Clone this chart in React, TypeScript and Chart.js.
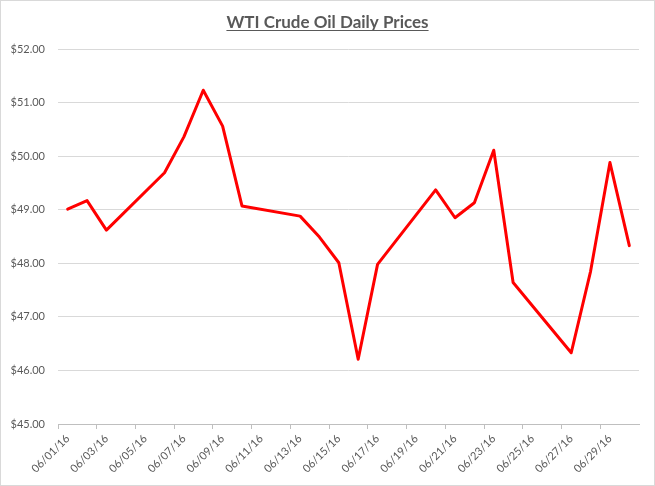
import React, { useEffect, useRef } from "react";
import { Chart, registerables } from "chart.js";

Chart.register(...registerables);

const TITLE = "WTI Crude Oil Daily Prices";

// All calendar days of June 2016 (the date axis)
const dayLabels: string[] = [
  "06/01/16", "06/02/16", "06/03/16", "06/04/16", "06/05/16", "06/06/16",
  "06/07/16", "06/08/16", "06/09/16", "06/10/16", "06/11/16", "06/12/16",
  "06/13/16", "06/14/16", "06/15/16", "06/16/16", "06/17/16", "06/18/16",
  "06/19/16", "06/20/16", "06/21/16", "06/22/16", "06/23/16", "06/24/16",
  "06/25/16", "06/26/16", "06/27/16", "06/28/16", "06/29/16", "06/30/16",
];

// Trading-day prices (null = weekend, no data)
const prices: (number | null)[] = [
  49.01, 49.17, 48.62, null, null, 49.69,
  50.36, 51.23, 50.56, 49.07, null, null,
  48.88, 48.49, 48.01, 46.21, 47.98, null,
  null, 49.37, 48.85, 49.13, 50.11, 47.64,
  null, null, 46.33, 47.85, 49.88, 48.33,
];

const yMin = 45;
const yMax = 52;
const yStep = 1;

const FONT = "Lato, 'Open Sans', sans-serif";

const decorPlugin = {
  id: "decor",
  beforeDraw(chart: any) {
    const { ctx, width, height } = chart;
    ctx.save();
    ctx.fillStyle = "#ffffff";
    ctx.fillRect(0, 0, width, height);
    ctx.restore();
  },
  afterDraw(chart: any) {
    const { ctx, width, height } = chart;
    ctx.save();
    // outer chart border
    ctx.strokeStyle = "#d9d9d9";
    ctx.lineWidth = 1;
    ctx.strokeRect(0.5, 0.5, width - 1, height - 1);
    // title with underline
    ctx.font = `bold 17px ${FONT}`;
    ctx.fillStyle = "#595959";
    ctx.textAlign = "center";
    ctx.textBaseline = "alphabetic";
    const cx = width / 2;
    const by = 28;
    ctx.fillText(TITLE, cx, by);
    const w = ctx.measureText(TITLE).width;
    ctx.strokeStyle = "#595959";
    ctx.lineWidth = 1;
    ctx.beginPath();
    ctx.moveTo(cx - w / 2, by + 2.5);
    ctx.lineTo(cx + w / 2, by + 2.5);
    ctx.stroke();
    ctx.restore();
  },
};

export default function App() {
  const ref = useRef<HTMLCanvasElement | null>(null);

  useEffect(() => {
    if (!ref.current) return;
    const chart = new Chart(ref.current, {
      type: "line",
      data: {
        labels: dayLabels,
        datasets: [
          {
            label: "WTI",
            data: prices,
            borderColor: "rgb(255,0,0)",
            borderWidth: 3,
            pointRadius: 0,
            pointHoverRadius: 0,
            tension: 0,
            spanGaps: true,
            borderJoinStyle: "round",
            borderCapStyle: "round",
            fill: false,
          },
        ],
      },
      options: {
        responsive: false,
        animation: false,
        layout: { padding: { left: 0, right: 16, top: 49, bottom: 0 } },
        plugins: {
          legend: { display: false },
          title: { display: false },
          tooltip: { enabled: false },
        },
        scales: {
          x: {
            type: "category",
            offset: true,
            grid: {
              offset: true,
              drawOnChartArea: false,
              drawTicks: true,
              tickLength: 5,
              color: (c: any) => (c.index % 2 === 0 ? "#bfbfbf" : "rgba(0,0,0,0)"),
            },
            border: { display: true, color: "#bfbfbf", width: 1 },
            ticks: {
              autoSkip: false,
              maxRotation: 45,
              minRotation: 45,
              padding: 3,
              color: "#595959",
              font: { family: FONT, size: 11 },
              callback: (_v: any, i: number) => (i % 2 === 0 ? dayLabels[i] : ""),
            },
            afterFit: (s: any) => {
              s.height = 62;
            },
          },
          y: {
            min: yMin,
            max: yMax,
            grid: { color: "#d9d9d9", drawTicks: false, lineWidth: 1 },
            border: { display: false },
            ticks: {
              stepSize: yStep,
              padding: 13,
              color: "#595959",
              font: { family: FONT, size: 11 },
              callback: (v: any) => "$" + Number(v).toFixed(2),
            },
            afterFit: (s: any) => {
              s.width = 58;
            },
          },
        },
      },
      plugins: [decorPlugin],
    });
    return () => chart.destroy();
  }, []);

  return (
    <div style={{ position: "fixed", left: 0, top: 0, width: 655, height: 486, background: "#fff" }}>
      <canvas ref={ref} width={655} height={486} style={{ width: 655, height: 486, display: "block" }} />
    </div>
  );
}
